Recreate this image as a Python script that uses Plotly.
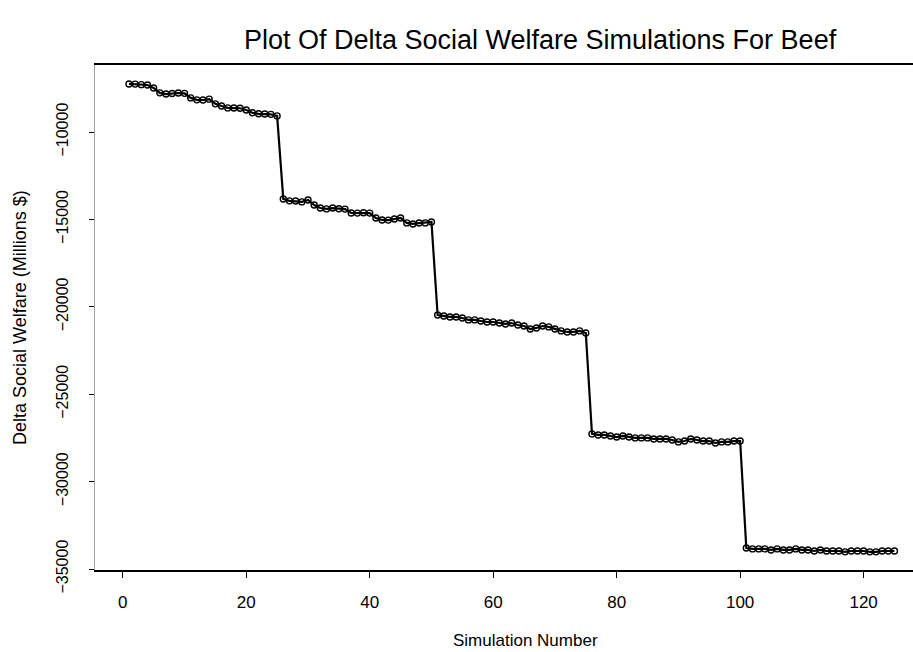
import plotly.graph_objects as go

# Simulation numbers 1..125 and the change in social welfare (millions $)
sim_number = list(range(1, 126))

welfare_run1 = [-7250, -7260, -7290, -7310, -7480, -7760, -7830, -7800, -7770, -7790,
                -8050, -8160, -8170, -8120, -8390, -8510, -8620, -8630, -8640, -8740,
                -8900, -8960, -8970, -8990, -9080]
welfare_run2 = [-13830, -13940, -13950, -14000, -13890, -14180, -14350, -14400, -14350, -14390,
                -14410, -14630, -14640, -14620, -14640, -14920, -15030, -15040, -14980, -14920,
                -15200, -15260, -15210, -15200, -15150]
welfare_run3 = [-20470, -20530, -20580, -20580, -20640, -20750, -20750, -20810, -20870, -20870,
                -20930, -20980, -20930, -21040, -21100, -21270, -21210, -21100, -21150, -21270,
                -21380, -21440, -21440, -21380, -21500]
welfare_run4 = [-27270, -27330, -27330, -27390, -27450, -27390, -27450, -27500, -27500, -27500,
                -27560, -27560, -27560, -27620, -27730, -27680, -27560, -27620, -27680, -27680,
                -27790, -27730, -27730, -27680, -27680]
welfare_run5 = [-33800, -33850, -33850, -33850, -33910, -33850, -33910, -33910, -33850, -33910,
                -33910, -33970, -33910, -33970, -33970, -33970, -34020, -33970, -33970, -33970,
                -34020, -34020, -33970, -33970, -33970]

delta_welfare = welfare_run1 + welfare_run2 + welfare_run3 + welfare_run4 + welfare_run5

x_ticks = [0, 20, 40, 60, 80, 100, 120]
y_ticks = [-10000, -15000, -20000, -25000, -30000, -35000]

FONT = "Liberation Sans, Arial, sans-serif"

fig = go.Figure()
fig.add_trace(go.Scatter(
    x=sim_number,
    y=delta_welfare,
    mode="lines+markers",
    line=dict(color="black", width=2.2),
    marker=dict(symbol="circle-open", size=6, color="black", line=dict(width=1.4)),
    showlegend=False,
))

fig.update_layout(
    width=913,
    height=652,
    margin=dict(l=95, r=0, t=65, b=82),
    paper_bgcolor="white",
    plot_bgcolor="white",
    font=dict(family=FONT, color="black"),
    title=dict(
        text="Plot Of Delta Social Welfare Simulations For Beef",
        x=0.5915, xanchor="center",
        y=1 - 40 / 652, yanchor="middle",
        font=dict(size=27, family=FONT, color="black"),
    ),
    xaxis=dict(
        range=[-4.5, 128],
        tickvals=x_ticks,
        ticks="outside",
        ticklen=6,
        tickwidth=1,
        tickcolor="black",
        showline=True,
        linecolor="black",
        linewidth=2,
        mirror=True,
        showgrid=False,
        zeroline=False,
        tickfont=dict(size=17, family=FONT),
        ticklabelstandoff=10,
    ),
    yaxis=dict(
        range=[-35057, -6167],
        tickvals=y_ticks,
        tickformat="d",
        tickangle=-90,
        ticks="outside",
        ticklen=5,
        tickwidth=1,
        tickcolor="black",
        showline=True,
        linecolor="#a0a0a0",
        linewidth=1,
        showgrid=False,
        zeroline=False,
        tickfont=dict(size=16, family=FONT),
        ticklabelstandoff=15,
    ),
    annotations=[
        dict(
            text="Simulation Number",
            xref="paper", yref="paper",
            x=(525 - 95) / 818, y=(570 - 640) / 505,
            xanchor="center", yanchor="middle",
            showarrow=False,
            font=dict(size=17, family=FONT, color="black"),
        ),
        dict(
            text="Delta Social Welfare (Millions $)",
            xref="paper", yref="paper",
            x=(20 - 95) / 818, y=(570 - 318) / 505,
            xanchor="center", yanchor="middle",
            textangle=-90,
            showarrow=False,
            font=dict(size=18, family=FONT, color="black"),
        ),
    ],
)

fig.write_html("out.html")
